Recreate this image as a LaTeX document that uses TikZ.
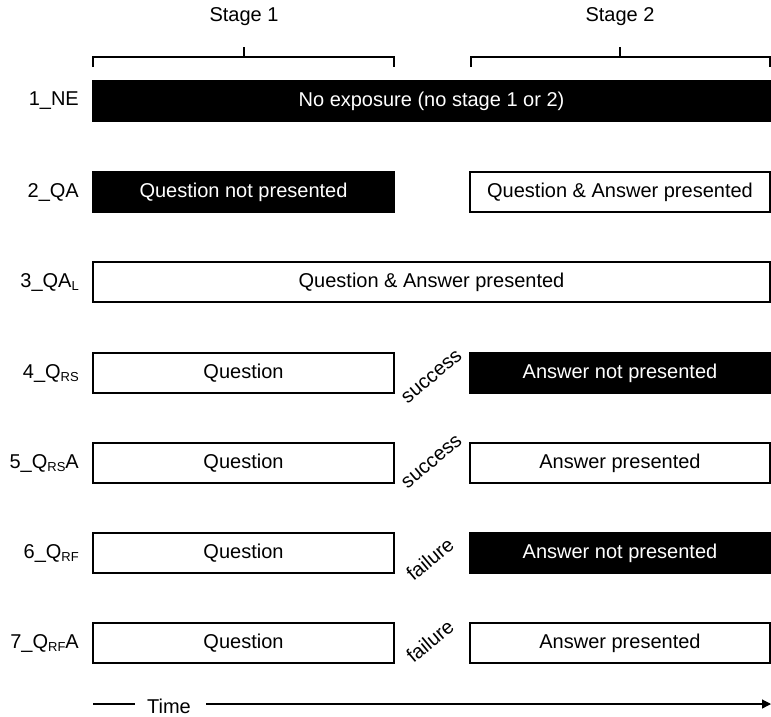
\documentclass[tikz,border=0pt]{standalone}
\usepackage{fontspec}
\setmainfont{Liberation Sans}
\usetikzlibrary{arrows.meta}
\newcommand{\lowsub}[1]{\raisebox{-3.5pt}{\fontsize{13}{13}\selectfont #1}}
\begin{document}
\begin{tikzpicture}[x=1pt,y=1pt,
  every node/.style={font=\fontsize{20}{22}\selectfont, inner sep=0pt},
  wbox/.style={draw=black, line width=1.4pt, fill=white, minimum height=40pt},
  bbox/.style={draw=black, line width=1.4pt, fill=black, text=white, minimum height=40pt},
  lbox/.style={minimum width=301pt},
  rbox/.style={minimum width=300pt},
  fbox/.style={minimum width=677pt},
  rowlab/.style={anchor=east},
  diag/.style={rotate=40},
  brk/.style={line width=1.1pt}
]
\useasboundingbox (0,0) rectangle (771,-716);

% stage labels
\node (s1) at (244,-17) {Stage 1};
\node (s2) at (620,-17) {Stage 2};

% brackets
\coordinate (b1a) at (93,-67); \coordinate (b1b) at (394,-67);
\coordinate (b2a) at (471,-67); \coordinate (b2b) at (770,-67);
\draw[brk] (b1a) -- ++(0,10) -- ++(301,0) -- ++(0,-10);
\draw[brk] (244,-57) -- (244,-47);
\draw[brk] (b2a) -- ++(0,10) -- ++(299,0) -- ++(0,-10);
\draw[brk] (620,-57) -- (620,-47);

% row 1
\node[rowlab] (l1) at (79,-101) {1\_NE};
\node[bbox,fbox] (r1) at (431.5,-101) {No exposure (no stage 1 or 2)};

% row 2
\node[rowlab] (l2) at (79,-192) {2\_QA};
\node[bbox,lbox] (r2a) at (243.5,-192) {Question not presented};
\node[wbox,rbox] (r2b) at (620,-192) {Question \& Answer presented};

% row 3
\node[rowlab] (l3) at (79,-282) {3\_QA\lowsub{L}};
\node[wbox,fbox] (r3) at (431.5,-282) {Question \& Answer presented};

% row 4
\node[rowlab] (l4) at (79,-373) {4\_Q\lowsub{RS}};
\node[wbox,lbox] (r4a) at (243.5,-373) {Question};
\node[bbox,rbox] (r4b) at (620,-373) {Answer not presented};
\node[diag] (d4) at (432,-377) {success};

% row 5
\node[rowlab] (l5) at (79,-463) {5\_Q\lowsub{RS}A};
\node[wbox,lbox] (r5a) at (243.5,-463) {Question};
\node[wbox,rbox] (r5b) at (620,-463) {Answer presented};
\node[diag] (d5) at (432,-462) {success};

% row 6
\node[rowlab] (l6) at (79,-553) {6\_Q\lowsub{RF}};
\node[wbox,lbox] (r6a) at (243.5,-553) {Question};
\node[bbox,rbox] (r6b) at (620,-553) {Answer not presented};
\node[diag] (d6) at (430,-559) {failure};

% row 7
\node[rowlab] (l7) at (79,-643) {7\_Q\lowsub{RF}A};
\node[wbox,lbox] (r7a) at (243.5,-643) {Question};
\node[wbox,rbox] (r7b) at (620,-643) {Answer presented};
\node[diag] (d7) at (430,-641) {failure};

% time axis
\node (time) at (169,-706) {Time};
\coordinate (t0) at (93,-704);
\coordinate (t0e) at (135,-704);
\coordinate (t1s) at (206,-704);
\coordinate (t1) at (771,-704);
\draw[line width=1.2pt] (t0) -- (t0e);
\draw[line width=1.2pt, -{Triangle[length=9pt,width=9pt]}] (t1s) -- (t1);
\end{tikzpicture}
\end{document}
